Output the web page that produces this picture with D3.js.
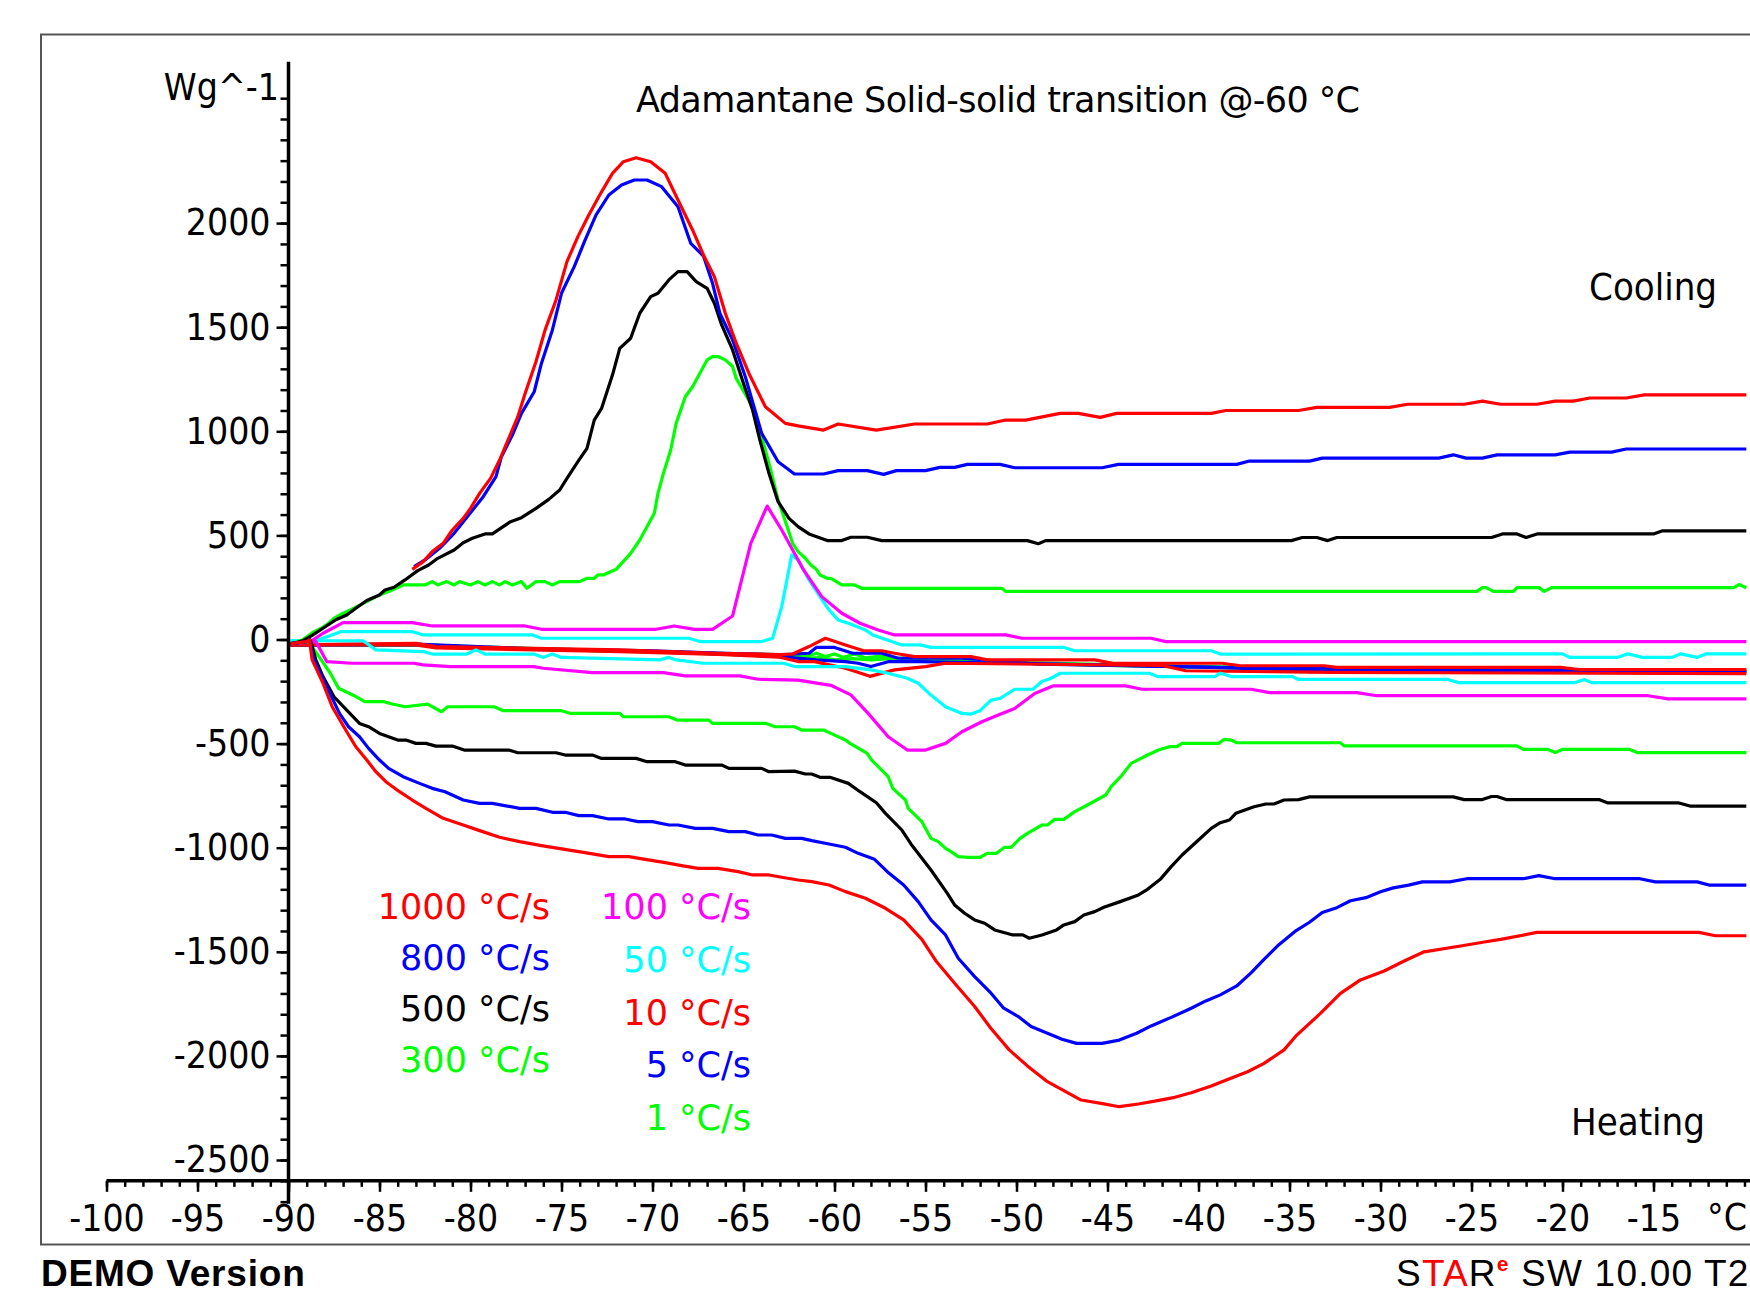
<!DOCTYPE html>
<html>
<head>
<meta charset="utf-8">
<script src="https://cdn.jsdelivr.net/npm/d3@7"></script>
<style>
  body { margin: 0; background: #fff; }
  svg { display: block; }
  text { font-family: "DejaVu Sans", sans-serif; }
  .cond { font-family: "DejaVu Sans Condensed", "DejaVu Sans", sans-serif; font-stretch: condensed; }
</style>
</head>
<body>
<script>
// heating rate curves, [temperature °C, heat flow W/g]
const cool1000 = [[-83.2,337],[-82.6,374],[-82.1,422],[-81.5,462],[-81.0,526],[-80.4,582],[-80.0,630],[-79.5,702],[-78.9,774],[-78.4,862],[-77.9,966],[-77.4,1070],[-77.0,1182],[-76.4,1335],[-75.9,1487],[-75.3,1631],[-74.7,1815],[-74.1,1935],[-73.5,2039],[-72.9,2135],[-72.2,2239],[-71.6,2295],[-70.9,2314],[-70.1,2295],[-69.3,2239],[-68.6,2111],[-67.8,1967],[-67.2,1847],[-66.6,1743],[-66.0,1567],[-65.4,1423],[-64.7,1278],[-63.8,1118],[-62.7,1038],[-62.0,1026],[-60.6,1006],[-59.8,1035],[-57.7,1006],[-55.6,1035],[-51.6,1035],[-50.6,1054],[-49.5,1054],[-47.6,1086],[-46.6,1086],[-45.4,1067],[-44.5,1086],[-39.3,1086],[-38.5,1100],[-34.5,1100],[-33.5,1115],[-29.5,1115],[-28.5,1130],[-25.4,1130],[-24.4,1145],[-23.4,1130],[-21.4,1130],[-20.4,1145],[-19.4,1145],[-18.5,1160],[-16.5,1160],[-15.5,1175],[-9.9,1175]];
const heat1000 = [[-89.9,-20],[-89.0,-10],[-88.85,-2],[-88.7,-98],[-88.1,-211],[-87.6,-323],[-86.8,-443],[-86.3,-515],[-85.7,-579],[-85.2,-635],[-84.65,-683],[-83.9,-731],[-83.2,-771],[-82.45,-811],[-81.5,-859],[-80.4,-891],[-79.5,-918],[-78.4,-950],[-77.3,-971],[-76.1,-990],[-75.0,-1006],[-74.05,-1019],[-73.3,-1030],[-72.4,-1043],[-71.3,-1043],[-70.4,-1056],[-69.3,-1072],[-68.4,-1086],[-67.5,-1099],[-66.4,-1099],[-65.3,-1115],[-64.5,-1131],[-63.6,-1131],[-62.9,-1142],[-62.0,-1155],[-61.25,-1163],[-60.3,-1179],[-59.4,-1211],[-58.3,-1243],[-57.2,-1291],[-56.2,-1347],[-55.2,-1440],[-54.4,-1547],[-53.4,-1651],[-52.3,-1763],[-51.4,-1868],[-50.4,-1971],[-49.4,-2048],[-48.3,-2124],[-47.4,-2167],[-46.45,-2212],[-45.35,-2228],[-44.35,-2244],[-43.3,-2231],[-42.4,-2217],[-41.3,-2199],[-40.4,-2177],[-39.3,-2145],[-38.4,-2113],[-37.3,-2076],[-36.4,-2036],[-35.3,-1971],[-34.6,-1900],[-33.3,-1796],[-32.2,-1700],[-31.1,-1635],[-29.8,-1592],[-28.7,-1544],[-27.6,-1500],[-25.6,-1472],[-24.3,-1453],[-23.4,-1440],[-21.4,-1407],[-12.5,-1407],[-11.6,-1423],[-9.9,-1423]];

const cool800 = [[-83.1,350],[-82.5,382],[-81.7,438],[-80.9,510],[-80.1,598],[-79.3,686],[-78.6,782],[-78.3,878],[-77.7,982],[-77.2,1086],[-76.5,1190],[-76.1,1327],[-75.5,1487],[-75.0,1663],[-74.3,1791],[-73.7,1919],[-73.1,2039],[-72.4,2135],[-71.7,2183],[-71.0,2207],[-70.3,2207],[-69.5,2175],[-68.6,2079],[-67.9,1903],[-67.2,1842],[-66.7,1711],[-66.3,1567],[-65.6,1439],[-64.9,1262],[-64.0,990],[-63.1,854],[-62.2,795],[-60.6,795],[-59.8,811],[-58.2,811],[-57.3,793],[-56.6,811],[-55.0,811],[-54.2,827],[-53.4,827],[-52.7,841],[-50.9,841],[-50.1,825],[-45.3,825],[-44.4,841],[-37.9,841],[-37.2,857],[-33.9,857],[-33.2,871],[-26.8,871],[-26.0,887],[-25.3,871],[-24.4,871],[-23.6,887],[-20.4,887],[-19.6,900],[-17.3,900],[-16.5,915],[-9.9,915]];
const heat800 = [[-89.9,-20],[-89.0,-10],[-88.85,-2],[-88.6,-98],[-87.9,-227],[-87.2,-355],[-86.7,-419],[-86.1,-467],[-85.6,-523],[-85.0,-579],[-84.5,-619],[-83.7,-659],[-82.8,-691],[-82.1,-715],[-81.4,-731],[-80.4,-771],[-79.5,-787],[-78.8,-787],[-77.3,-811],[-76.4,-811],[-75.5,-830],[-74.8,-830],[-74.05,-846],[-73.3,-846],[-72.4,-862],[-71.5,-862],[-70.8,-875],[-70.0,-875],[-69.1,-891],[-68.6,-891],[-67.65,-907],[-66.7,-907],[-65.8,-923],[-64.9,-923],[-64.2,-939],[-63.45,-939],[-62.7,-955],[-61.8,-955],[-61.25,-966],[-60.3,-982],[-59.4,-998],[-58.7,-1027],[-57.8,-1056],[-57.1,-1115],[-56.2,-1179],[-55.4,-1259],[-54.7,-1347],[-53.9,-1419],[-53.2,-1531],[-52.3,-1619],[-51.4,-1699],[-50.7,-1771],[-49.9,-1811],[-49.2,-1859],[-48.3,-1891],[-47.5,-1920],[-46.7,-1940],[-45.3,-1940],[-44.35,-1924],[-43.4,-1891],[-42.6,-1856],[-41.5,-1815],[-40.4,-1771],[-39.6,-1736],[-38.8,-1707],[-37.9,-1664],[-37.1,-1600],[-36.4,-1536],[-35.6,-1467],[-34.7,-1402],[-33.9,-1358],[-33.2,-1311],[-32.4,-1288],[-31.65,-1255],[-30.8,-1240],[-30.0,-1212],[-29.3,-1193],[-28.45,-1180],[-27.7,-1164],[-26.2,-1164],[-25.25,-1149],[-22.15,-1149],[-21.3,-1134],[-20.4,-1149],[-15.75,-1149],[-14.9,-1164],[-12.6,-1164],[-11.9,-1180],[-9.9,-1180]];

const cool500 = [[-89.8,-20],[-89.2,-5],[-88.7,20],[-88.0,60],[-87.4,95],[-86.8,118],[-86.3,150],[-85.7,187],[-85.0,214],[-84.7,238],[-84.2,251],[-83.6,286],[-82.9,331],[-82.3,358],[-81.8,390],[-80.9,430],[-80.4,465],[-79.9,486],[-79.2,507],[-78.8,507],[-77.8,566],[-77.2,585],[-76.4,630],[-75.7,673],[-75.1,718],[-74.7,774],[-74.1,854],[-73.6,918],[-73.2,1054],[-72.8,1110],[-72.2,1270],[-71.8,1398],[-71.2,1447],[-70.7,1567],[-70.1,1647],[-69.7,1663],[-69.1,1727],[-68.6,1767],[-68.1,1767],[-67.6,1719],[-67.0,1687],[-66.6,1615],[-66.2,1511],[-65.6,1391],[-65.0,1230],[-64.5,1102],[-64.1,958],[-63.6,798],[-63.1,662],[-62.5,582],[-62.0,542],[-61.4,507],[-60.4,475],[-59.6,475],[-59.1,491],[-58.2,491],[-57.4,475],[-49.4,475],[-48.8,460],[-48.4,475],[-34.9,475],[-34.3,490],[-33.5,490],[-32.9,475],[-32.4,490],[-23.9,490],[-23.3,507],[-22.5,507],[-22.0,490],[-21.4,507],[-15.0,507],[-14.5,522],[-9.9,522]];
const heat500 = [[-89.9,-20],[-89.0,-10],[-88.8,-2],[-88.5,-98],[-88.1,-179],[-87.5,-275],[-86.8,-339],[-86.1,-403],[-85.6,-419],[-85.0,-451],[-84.0,-483],[-83.55,-483],[-83.0,-499],[-82.45,-499],[-81.9,-512],[-81.0,-512],[-80.35,-531],[-77.9,-531],[-77.4,-544],[-75.3,-544],[-74.8,-555],[-73.3,-555],[-72.8,-571],[-70.9,-571],[-70.3,-587],[-68.75,-587],[-68.2,-603],[-66.2,-603],[-65.8,-619],[-64.0,-619],[-63.6,-635],[-62.2,-632],[-61.6,-646],[-61.25,-646],[-60.8,-662],[-60.25,-662],[-59.24,-691],[-58.6,-731],[-57.7,-784],[-57.2,-835],[-56.3,-915],[-55.8,-982],[-54.7,-1107],[-53.8,-1219],[-53.4,-1275],[-52.85,-1315],[-52.3,-1347],[-51.75,-1363],[-51.2,-1395],[-50.2,-1419],[-49.65,-1419],[-49.3,-1435],[-48.6,-1419],[-47.8,-1395],[-47.4,-1371],[-46.8,-1355],[-46.3,-1323],[-45.7,-1307],[-45.2,-1286],[-44.3,-1259],[-43.3,-1227],[-42.8,-1200],[-42.1,-1152],[-41.5,-1091],[-40.9,-1035],[-40.0,-963],[-39.3,-907],[-38.8,-880],[-38.3,-867],[-37.95,-835],[-36.95,-803],[-36.3,-790],[-35.85,-790],[-35.3,-771],[-34.5,-769],[-33.9,-756],[-26.0,-756],[-25.4,-769],[-24.4,-769],[-23.9,-754],[-23.6,-754],[-23.1,-769],[-18.0,-769],[-17.5,-785],[-13.6,-785],[-13.0,-800],[-9.9,-800]];

const cool300 = [[-89.8,-20],[-89.2,0],[-88.6,38],[-88.2,54],[-87.8,78],[-87.5,102],[-87.0,126],[-86.6,142],[-85.7,182],[-85.0,214],[-84.5,230],[-83.7,262],[-82.5,262],[-82.1,278],[-81.8,262],[-81.3,278],[-80.9,262],[-80.6,278],[-80.0,262],[-79.6,278],[-79.2,262],[-78.8,278],[-78.4,262],[-78.1,278],[-77.7,262],[-77.2,278],[-76.9,246],[-76.4,278],[-75.9,278],[-75.5,262],[-75.1,278],[-74.0,278],[-73.6,294],[-73.2,294],[-73.0,310],[-72.7,310],[-72.0,337],[-71.2,414],[-70.7,478],[-69.9,606],[-69.7,702],[-69.4,798],[-69.0,910],[-68.7,1038],[-68.2,1166],[-67.8,1214],[-67.5,1262],[-67.0,1343],[-66.7,1359],[-66.4,1359],[-66.0,1343],[-65.6,1311],[-65.4,1254],[-64.5,1118],[-64.1,1006],[-63.5,814],[-63.1,670],[-62.6,542],[-62.3,462],[-62.0,422],[-61.6,390],[-61.3,358],[-61.0,337],[-60.8,310],[-60.4,294],[-60.2,294],[-59.6,262],[-58.9,262],[-58.5,246],[-50.8,246],[-50.6,231],[-24.7,231],[-24.4,249],[-24.2,249],[-23.8,231],[-22.7,231],[-22.5,249],[-21.3,249],[-21.0,231],[-20.6,249],[-10.6,249],[-10.3,264],[-9.9,249]];
const heat300 = [[-89.9,-20],[-88.9,-10],[-88.2,-98],[-87.7,-162],[-87.25,-234],[-86.3,-274],[-85.8,-298],[-84.8,-298],[-84.3,-310],[-83.6,-323],[-82.35,-310],[-81.6,-347],[-81.25,-323],[-78.7,-323],[-78.2,-342],[-75.0,-342],[-74.5,-355],[-71.8,-355],[-71.6,-371],[-69.1,-371],[-68.65,-387],[-66.9,-387],[-66.7,-403],[-63.75,-403],[-63.26,-419],[-62.2,-419],[-61.8,-435],[-60.6,-435],[-60.2,-451],[-59.4,-483],[-59.15,-499],[-58.2,-547],[-57.96,-579],[-57.05,-659],[-56.8,-715],[-56.1,-771],[-55.95,-811],[-55.2,-875],[-54.7,-955],[-54.3,-971],[-53.9,-1003],[-53.6,-1019],[-53.2,-1043],[-52.75,-1046],[-52.0,-1046],[-51.6,-1027],[-51.1,-1027],[-50.65,-998],[-50.3,-998],[-49.8,-955],[-49.4,-931],[-48.6,-891],[-48.3,-891],[-47.9,-864],[-47.4,-864],[-46.8,-827],[-46.1,-795],[-45.1,-747],[-44.8,-707],[-44.2,-651],[-43.7,-595],[-42.8,-555],[-42.2,-531],[-41.6,-515],[-41.2,-515],[-40.9,-499],[-38.9,-499],[-38.6,-480],[-38.2,-483],[-37.9,-496],[-32.2,-496],[-32.0,-511],[-22.5,-511],[-22.15,-528],[-20.8,-528],[-20.4,-543],[-20.0,-528],[-16.3,-528],[-15.9,-543],[-9.9,-543]];

const cool100 = [[-89.8,-20],[-88.8,-10],[-88.1,30],[-87.0,81],[-83.2,81],[-82.1,65],[-77.0,65],[-76.1,49],[-69.8,49],[-68.8,65],[-67.7,49],[-66.7,49],[-65.6,113],[-64.6,462],[-63.7,641],[-62.9,526],[-62.5,462],[-61.7,334],[-60.7,206],[-59.6,126],[-58.6,78],[-57.6,46],[-56.7,22],[-50.6,22],[-49.7,6],[-42.6,6],[-41.8,-10],[-9.9,-10]];
const heat100 = [[-89.9,-20],[-88.5,-10],[-87.9,-106],[-86.5,-114],[-83.1,-114],[-82.6,-122],[-81.1,-130],[-76.5,-130],[-76.0,-138],[-73.3,-159],[-69.4,-159],[-68.2,-175],[-65.2,-175],[-64.2,-191],[-62.0,-195],[-60.2,-220],[-59.1,-266],[-58.15,-355],[-57.05,-467],[-56.0,-531],[-55.0,-531],[-53.9,-499],[-53.0,-443],[-51.9,-395],[-51.0,-363],[-50.1,-331],[-49.0,-259],[-48.0,-223],[-44.0,-223],[-43.1,-239],[-37.1,-239],[-36.1,-255],[-31.3,-255],[-30.2,-270],[-15.3,-270],[-14.2,-285],[-9.9,-285]];

const cool50 = [[-89.9,-6],[-88.5,-6],[-87.5,25],[-87.1,38],[-83.2,38],[-82.6,22],[-76.6,22],[-76.1,6],[-68.0,6],[-67.4,-10],[-64.0,-10],[-63.4,6],[-62.9,158],[-62.35,406],[-62.0,382],[-61.4,286],[-60.8,206],[-60.3,142],[-59.8,94],[-59.2,77],[-58.3,46],[-57.9,22],[-57.1,-2],[-56.3,-26],[-55.3,-26],[-54.7,-38],[-47.4,-38],[-46.8,-54],[-39.3,-54],[-38.8,-70],[-20.0,-69],[-19.6,-86],[-17.0,-86],[-16.4,-69],[-15.6,-86],[-14.0,-86],[-13.5,-69],[-12.6,-86],[-12.1,-69],[-9.9,-69]];
const heat50 = [[-89.9,-6],[-85.9,-6],[-85.2,-50],[-82.6,-58],[-82.1,-70],[-80.2,-70],[-79.7,-50],[-79.2,-70],[-76.5,-70],[-76.0,-86],[-75.5,-70],[-75.0,-86],[-69.6,-98],[-69.1,-86],[-68.7,-98],[-67.2,-114],[-62.8,-114],[-62.2,-130],[-59.4,-130],[-58.0,-146],[-57.05,-162],[-56.0,-186],[-55.4,-210],[-54.7,-267],[-53.9,-323],[-53.0,-355],[-52.5,-358],[-52.0,-342],[-51.4,-291],[-50.9,-283],[-50.1,-239],[-49.1,-239],[-48.6,-202],[-48.1,-186],[-47.6,-162],[-42.7,-162],[-42.25,-178],[-39.1,-178],[-38.8,-162],[-38.2,-178],[-34.85,-178],[-34.5,-192],[-26.3,-192],[-25.7,-207],[-19.3,-207],[-18.8,-192],[-18.4,-207],[-9.9,-207]];

const cool10 = [[-89.9,-26],[-83.0,-18],[-81.9,-34],[-76.5,-42],[-71.8,-50],[-66.4,-66],[-63.0,-72],[-62.3,-70],[-61.4,-34],[-60.5,6],[-59.4,-26],[-58.4,-54],[-57.4,-54],[-56.7,-66],[-55.6,-82],[-52.5,-82],[-51.6,-98],[-45.7,-98],[-44.7,-114],[-38.7,-114],[-37.7,-126],[-33.1,-126],[-32.4,-134],[-20.1,-134],[-19.1,-144],[-9.9,-144]];
const heat10 = [[-89.9,-26],[-83.0,-26],[-81.9,-40],[-76.5,-50],[-71.8,-58],[-66.4,-72],[-63.0,-85],[-62.0,-106],[-61.1,-106],[-59.4,-138],[-58.05,-177],[-56.7,-146],[-55.0,-130],[-53.9,-114],[-42.0,-125],[-40.7,-150],[-32.8,-158],[-9.9,-164]];
const cool5 = [[-89.9,-26],[-83.0,-22],[-76.5,-45],[-70.0,-55],[-66.0,-66],[-63.0,-74],[-61.4,-66],[-61.0,-38],[-60.0,-38],[-59.0,-66],[-57.4,-66],[-56.5,-90],[-53.0,-90],[-48.7,-118],[-38.7,-134],[-33.1,-134],[-32.5,-146],[-20.1,-146],[-9.9,-150]];
const heat5 = [[-89.9,-26],[-83.0,-26],[-76.5,-48],[-70.0,-58],[-66.0,-70],[-63.0,-82],[-61.0,-98],[-59.4,-106],[-58.7,-114],[-58.0,-130],[-57.0,-106],[-55.3,-106],[-50.0,-114],[-42.0,-128],[-33.0,-150],[-9.9,-156]];
const cool1 = [[-89.9,-26],[-83.0,-24],[-76.0,-45],[-70.0,-57],[-66.0,-68],[-62.5,-74],[-61.5,-80],[-61.0,-66],[-60.5,-82],[-60.0,-70],[-59.5,-86],[-58.9,-70],[-58.3,-88],[-57.5,-80],[-56.5,-90],[-55.5,-86],[-54.3,-90],[-50.0,-110],[-45.0,-120],[-38.0,-132],[-30.0,-140],[-20.0,-146],[-9.9,-150]];
const heat1 = [[-89.9,-26],[-83.0,-28],[-76.0,-48],[-70.0,-60],[-66.0,-72],[-62.5,-80],[-61.5,-90],[-60.7,-86],[-60.0,-98],[-59.0,-92],[-58.0,-98],[-57.0,-92],[-55.0,-98],[-54.3,-98],[-50.0,-114],[-45.0,-124],[-38.0,-136],[-30.0,-144],[-20.0,-150],[-9.9,-154]];

// drawing order, back to front
const seriesData = [cool1, heat1, cool5, heat5, cool10, heat10, cool50, heat50, cool100, heat100, cool300, heat300, cool500, heat500, cool800, heat800, cool1000, heat1000];
const seriesColors = ["#00ff00","#00ff00","#0000ff","#0000ff","#ff0000","#ff0000","#00ffff","#00ffff","#ff00ff","#ff00ff","#00ff00","#00ff00","#000000","#000000","#0000ff","#0000ff","#ff0000","#ff0000"];

const legendLeft = ["1000 °C/s", "800 °C/s", "500 °C/s", "300 °C/s"];
const legendLeftColors = ["#ff0000", "#0000ff", "#000000", "#00ff00"];
const legendRight = ["100 °C/s", "50 °C/s", "10 °C/s", "5 °C/s", "1 °C/s"];
const legendRightColors = ["#ff00ff", "#00ffff", "#ff0000", "#0000ff", "#00ff00"];

const xMajor = d3.range(-100, -14, 5);
const xMinor = d3.range(-100, -9, 1);
const yMajor = d3.range(-2500, 2001, 500);
const yMinor = d3.range(-2700, 2601, 100);

const width = 1750, height = 1294;
const svg = d3.select("body").append("svg").attr("width", width).attr("height", height);

const x = d3.scaleLinear().domain([-100, -10]).range([106.5, 1744.5]);
const y = d3.scaleLinear().domain([0, 2500]).range([639.5, 119]);

// frame
svg.append("rect").attr("x", 41).attr("y", 34.5).attr("width", 1800).attr("height", 1210)
  .attr("fill", "none").attr("stroke", "#555").attr("stroke-width", 2);

// curves
const line = d3.line().x(d => x(d[0])).y(d => y(d[1]));
svg.append("g").selectAll("path").data(seriesData).join("path")
  .attr("d", line).attr("fill", "none")
  .attr("stroke", (d, i) => seriesColors[i])
  .attr("stroke-width", 3.2).attr("stroke-linejoin", "round");

const plain = d => String(d);

// y axis
const gy = svg.append("g").attr("transform", `translate(${x(-90)},0)`);
gy.append("g").call(d3.axisLeft(y).tickValues(yMinor).tickSize(8).tickFormat(""))
  .call(g => g.select(".domain").remove());
gy.append("g").call(d3.axisLeft(y).tickValues(yMajor).tickSize(12).tickPadding(6).tickFormat(plain))
  .call(g => g.select(".domain").remove());
gy.append("line").attr("y1", y(2775)).attr("y2", y(-2710)).attr("stroke", "#000").attr("stroke-width", 3.5);
gy.selectAll(".tick line").attr("stroke", "#000").attr("stroke-width", 2.5);
gy.selectAll(".tick text").attr("class", "cond").attr("font-size", 37).attr("fill", "#000").attr("font-family", null);

// x axis
const gx = svg.append("g").attr("transform", `translate(0,${y(-2600)})`);
gx.append("g").call(d3.axisBottom(x).tickValues(xMinor).tickSize(6).tickFormat(""))
  .call(g => g.select(".domain").remove());
gx.append("g").call(d3.axisBottom(x).tickValues(xMajor).tickSize(11).tickPadding(13).tickFormat(plain))
  .call(g => g.select(".domain").remove());
gx.append("line").attr("x1", x(-100)).attr("x2", width).attr("stroke", "#000").attr("stroke-width", 3.5);
gx.selectAll(".tick line").attr("stroke", "#000").attr("stroke-width", 2.5);
gx.selectAll(".tick text").attr("class", "cond").attr("font-size", 37).attr("fill", "#000").attr("font-family", null);
svg.append("text").attr("class", "cond").attr("x", 1747).attr("y", 1230).attr("text-anchor", "end")
  .attr("font-size", 37).text("°C");

// labels
svg.append("text").attr("class", "cond").attr("x", 279).attr("y", 100).attr("text-anchor", "end")
  .attr("font-size", 37).text("Wg^-1");
svg.append("text").attr("x", 636).attr("y", 112).attr("font-size", 35)
  .attr("textLength", 724).text("Adamantane Solid-solid transition @-60 °C");
svg.append("text").attr("class", "cond").attr("x", 1589).attr("y", 300).attr("font-size", 38).text("Cooling");
svg.append("text").attr("class", "cond").attr("x", 1571).attr("y", 1135).attr("font-size", 38).text("Heating");

// legend
svg.append("g").selectAll("text").data(legendLeft).join("text")
  .attr("x", 550).attr("y", (d, i) => 919 + i * 51)
  .attr("text-anchor", "end").attr("font-size", 35)
  .attr("fill", (d, i) => legendLeftColors[i]).text(d => d);
svg.append("g").selectAll("text").data(legendRight).join("text")
  .attr("x", 751).attr("y", (d, i) => 919 + i * 52.8)
  .attr("text-anchor", "end").attr("font-size", 35)
  .attr("fill", (d, i) => legendRightColors[i]).text(d => d);

// footer
svg.append("text").attr("x", 41).attr("y", 1286).attr("font-size", 37)
  .attr("font-weight", "bold").style("font-family", '"Liberation Sans", Arial, sans-serif')
  .attr("letter-spacing", 0.8).text("DEMO Version");
const star = svg.append("text").attr("x", 1396).attr("y", 1286).attr("font-size", 37)
  .style("font-family", '"Liberation Sans", Arial, sans-serif').attr("letter-spacing", 1.2);
star.append("tspan").attr("fill", "#000").text("S");
star.append("tspan").attr("fill", "#ff0000").text("TA");
star.append("tspan").attr("fill", "#000").text("R");
star.append("tspan").attr("fill", "#ff0000").attr("font-size", 21).attr("font-weight", "bold").attr("dy", -15).text("e");
star.append("tspan").attr("fill", "#000").attr("dy", 15).text(" SW 10.00 T2");
</script>
</body>
</html>
